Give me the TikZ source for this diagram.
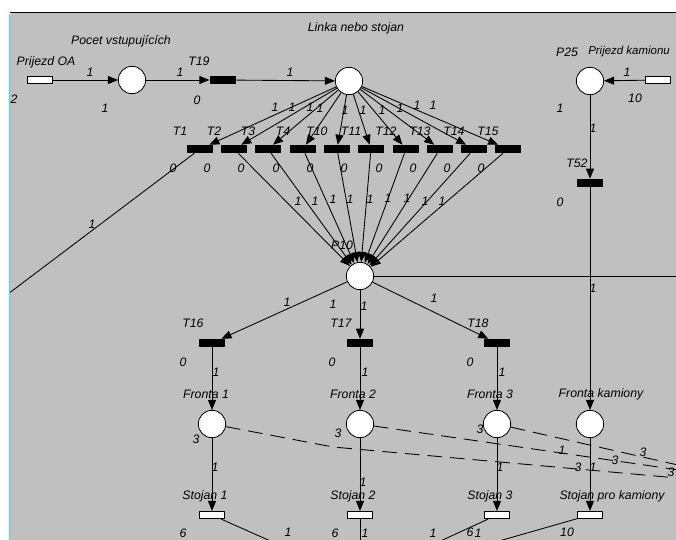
\documentclass[tikz,border=0pt]{standalone}
\usepackage{fontspec}
\setmainfont{Liberation Sans}
\usetikzlibrary{arrows.meta}
\definecolor{panel}{RGB}{192,192,192}
\definecolor{rim}{RGB}{70,220,225}
\tikzset{
  >={Triangle[length=7.5pt,width=6pt]},
  arc/.style={line width=0.65pt},
  dasharc/.style={line width=0.65pt,dash pattern=on 11pt off 6pt},
  place/.style={circle,draw,fill=white,line width=0.6pt,minimum size=20.5pt,inner sep=0pt},
  trans/.style={rectangle,fill=black,minimum width=20pt,minimum height=6pt,inner sep=0pt},
  hollow/.style={rectangle,draw,fill=white,line width=0.6pt,minimum width=19pt,minimum height=5.5pt,inner sep=0pt},
  lbl/.style={font=\fontsize{9.2}{10}\selectfont\itshape,inner sep=0pt},
}
\begin{document}
\begin{tikzpicture}[x=0.75pt,y=-0.75pt]
\useasboundingbox (0,0) rectangle (676,540);
\fill[panel,rounded corners=3pt] (10,12) rectangle (700,560);
\begin{scope}
\clip (10,12) rectangle (676,540);
% top line
\node[hollow] (oa) at (40,80) {};
\node[place] (pocet) at (132,80) {};
\node[trans] (t19) at (223,80) {};
\node[place] (linka) at (349,81) {};
\node[place] (p25) at (590,81) {};
\node[hollow] (kam) at (658,80) {};
\draw[arc,->] (oa) -- (pocet);
\draw[arc,->] (pocet) -- (t19);
\draw[arc,->] (t19) -- (linka);
\draw[arc,->] (kam) -- (p25);
\node[lbl] (toa) at (46,62) {Prijezd OA};
\node[lbl] (tpocet) at (121,41) {Pocet vstupujících};
\node[lbl] (tlinka) at (356,28) {Linka nebo stojan};
\node[lbl] (tp25) at (567,52) {P25};
\node[lbl,anchor=west,font=\fontsize{8.6}{10}\selectfont\itshape] (tkam) at (588,52) {Prijezd kamionu};
\node[lbl] (tt19) at (199,61) {T19};
% row of transitions
\foreach \n/\x in {1/200,2/234,3/268,4/303,10/337,11/371,12/406,13/440,14/474,15/508}{
  \node[trans] (t\n) at (\x,149) {};
  \node[lbl] (lt\n) at (\x-20,131) {T\n};
  \node[lbl] (zt\n) at (\x-27,168) {0};
  \draw[arc,->] (linka) -- (t\n);
}
\node[place] (p10) at (360,276) {};
\node[lbl] (lp10) at (342,245) {P10};
\foreach \n in {2,3,4,10,11,12,13,14,15}
  \draw[arc,->] (t\n) -- (p10);
\coordinate (offl) at (0,300);
\draw[arc] (t1) -- (offl);
\coordinate (offr) at (700,276);
\draw[arc] (p10) -- (offr);
% trucks
\node[trans] (t52) at (590,183) {};
\node[lbl] (tt52) at (577,163) {T52};
\draw[arc,->] (p25) -- (t52);
% queues
\node[trans] (t16) at (212,343) {};
\node[trans] (t17) at (360,343) {};
\node[trans] (t18) at (497,343) {};
\node[lbl] (lt16) at (193,323) {T16};
\node[lbl] (lt17) at (341,323) {T17};
\node[lbl] (lt18) at (478,323) {T18};
\draw[arc,->] (p10) -- (t16);
\draw[arc,->] (p10) -- (t17);
\draw[arc,->] (p10) -- (t18);
\node[place] (f1) at (212,424) {};
\node[place] (f2) at (360,424) {};
\node[place] (f3) at (497,424) {};
\node[place] (fk) at (590,424) {};
\node[lbl] (lf1) at (206,394) {Fronta 1};
\node[lbl] (lf2) at (353,394) {Fronta 2};
\node[lbl] (lf3) at (490,394) {Fronta 3};
\node[lbl] (lfk) at (601,394) {Fronta kamiony};
\draw[arc,->] (t16) -- (f1);
\draw[arc,->] (t17) -- (f2);
\draw[arc,->] (t18) -- (f3);
\draw[arc,->] (t52) -- (fk);
% stands
\node[hollow] (s1) at (212,515) {};
\node[hollow] (s2) at (360,515) {};
\node[hollow] (s3) at (497,515) {};
\node[hollow] (sk) at (590,515) {};
\node[lbl] (ls1) at (205,496) {Stojan 1};
\node[lbl] (ls2) at (353,496) {Stojan 2};
\node[lbl] (ls3) at (490,496) {Stojan 3};
\node[lbl] (lsk) at (612,496) {Stojan pro kamiony};
\draw[arc,->] (f1) -- (s1);
\draw[arc,->] (f2) -- (s2);
\draw[arc,->] (f3) -- (s3);
\draw[arc,->] (fk) -- (sk);
\coordinate (b1) at (302,555);
\coordinate (b2) at (360,560);
\coordinate (b3) at (410,555);
\coordinate (bk) at (450,555);
\draw[arc] (s1) -- (b1);
\draw[arc] (s2) -- (b2);
\draw[arc] (s3) -- (b3);
\draw[arc] (sk) -- (bk);
% dashed arcs
\coordinate (d1) at (333,447);
\coordinate (d1e) at (700,480);
\coordinate (d2e) at (700,473);
\coordinate (d3e) at (700,470);
\draw[dasharc] (f1) -- (d1) -- (d1e);
\draw[dasharc] (f2) -- (d2e);
\draw[dasharc] (f3) -- (d3e);
% weights, markings
\foreach \x/\y/\w [count=\i] in {90/72/1,180/72/1,290/72/1,627/72/1,105/108/1,197/100/0,
    14/99/2,560/108/1,635/98/10,593/128/1,560/202/0,593/288/1,92/224/1,
    275/107/1,292/107/1,310/107/1,320/108/1,345/110/1,363/110/1,382/110/1,400/108/1,417/105/1,433/105/1,
    298/201/1,315/201/1,333/199/1,350/199/1,370/199/1,388/198/1,407/198/1,425/201/1,442/201/1,
    287/302/1,333/304/1,364/306/1,434/298/1,183/362/0,332/362/0,470/362/0,
    216/372/1,365/372/1,502/372/1,196/439/3,338/433/3,480/429/3,
    215/467/1,363/482/1,500/467/1,593/467/1,183/533/6,335/533/6,365/533/1,470/532/6,567/532/10,
    288/532/1,433/533/1,478/533/1,562/450/1,615/460/3,643/452/3,578/467/3,671/472/3}
  \node[lbl] (w\i) at (\x,\y) {\w};
\end{scope}
\draw[line width=1.1pt] (10,12.5) -- (676,12.5);
\draw[rim,line width=1.3pt] (9.5,14) -- (9.5,540);
\end{tikzpicture}
\end{document}
